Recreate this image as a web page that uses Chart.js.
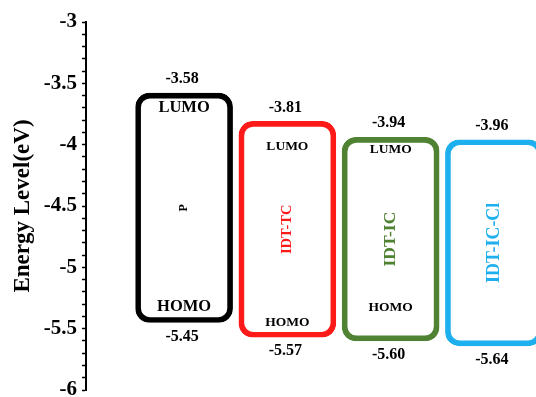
<!DOCTYPE html>
<html>
<head>
<meta charset="utf-8">
<script src="https://cdn.jsdelivr.net/npm/chart.js@4"></script>
<style>
  html, body { margin: 0; padding: 0; background: #fff; overflow: hidden; }
  #wrap { width: 536px; height: 397px; overflow: hidden; position: relative; }
  #c { position: absolute; left: 0; top: 0; }
</style>
</head>
<body>
<div id="wrap"><canvas id="c" width="560" height="410"></canvas></div>
<script>
// Frontier orbital energies (eV) of the polymer donor and the three acceptors
const materials = ['P', 'IDT-TC', 'IDT-IC', 'IDT-IC-Cl'];
const lumo = [-3.58, -3.81, -3.94, -3.96];
const homo = [-5.45, -5.57, -5.60, -5.64];
const slots = [1, 2, 3, 4];
const showLevelTags = [true, true, true, false];

// y-axis range and ticks
const yMin = -6, yMax = -3, yMinorStep = 0.1, yMajorStep = 0.5;

// styling
const boxColors = ['#000000', '#ff1a1a', '#4f8232', '#1eb0ee'];
const nameFontSizes = [12, 14.5, 17.5, 18];
const tagFontSizes = [16.5, 13.5, 13.5, 13.5];
// vertical offsets (px) of the LUMO / HOMO tags from the box edges
const lumoTagOffset = [15, 25, 12, 0];
const homoTagOffset = [16, 15, 33, 0];
const SERIF = '"Liberation Serif", "Times New Roman", serif';

const levelLabels = {
  id: 'levelLabels',
  afterDatasetsDraw(chart) {
    const ctx = chart.ctx;
    const meta = chart.getDatasetMeta(0);
    ctx.save();
    ctx.textAlign = 'center';
    ctx.textBaseline = 'middle';
    meta.data.forEach((bar, i) => {
      const top = Math.min(bar.y, bar.base);
      const bottom = Math.max(bar.y, bar.base);
      const cx = bar.x;
      ctx.fillStyle = '#000';
      ctx.font = 'bold 16px ' + SERIF;
      ctx.fillText(lumo[i].toFixed(2), cx - 2, top - 14);
      ctx.fillText(homo[i].toFixed(2), cx - 2, bottom + 14);
      if (showLevelTags[i]) {
        ctx.font = 'bold ' + tagFontSizes[i] + 'px ' + SERIF;
        ctx.fillText('LUMO', cx, top + lumoTagOffset[i]);
        ctx.fillText('HOMO', cx, bottom - homoTagOffset[i]);
      }
      // material name, rotated, in the middle of the box
      ctx.save();
      ctx.translate(cx, (top + bottom) / 2);
      ctx.rotate(-Math.PI / 2);
      ctx.fillStyle = boxColors[i];
      ctx.font = 'bold ' + nameFontSizes[i] + 'px ' + SERIF;
      ctx.fillText(materials[i], 0, 0);
      ctx.restore();
    });
    ctx.restore();
  }
};

new Chart(document.getElementById('c'), {
  type: 'bar',
  data: {
    datasets: [{
      data: slots.map((s, i) => ({ x: s, y: [homo[i], lumo[i]] })),
      backgroundColor: 'rgba(0,0,0,0)',
      borderColor: boxColors,
      borderWidth: 5,
      borderRadius: 14,
      borderSkipped: false,
      barThickness: 97
    }]
  },
  options: {
    responsive: false,
    animation: false,
    devicePixelRatio: 1,
    layout: { padding: { left: 0, top: 22, right: 0, bottom: 20 } },
    plugins: { legend: { display: false }, tooltip: { enabled: false } },
    scales: {
      x: {
        type: 'linear',
        min: 0.05,
        max: 4.64,
        offset: false,
        display: false
      },
      y: {
        min: yMin,
        max: yMax,
        afterFit(scale) { scale.width = 86; },
        border: { display: true, color: '#000', width: 2 },
        grid: {
          drawOnChartArea: false,
          drawTicks: true,
          tickLength: 4,
          tickColor: '#000',
          tickWidth: 1.5
        },
        ticks: {
          stepSize: yMinorStep,
          autoSkip: false,
          padding: 5,
          color: '#000',
          font: { family: SERIF, size: 21, weight: 'bold' },
          callback(v) {
            const r = v / yMajorStep;
            if (Math.abs(r - Math.round(r)) > 1e-6) return '';
            return String(Math.round(v * 10) / 10);
          }
        },
        title: {
          display: true,
          text: 'Energy Level(eV)',
          color: '#000',
          padding: { top: 9, bottom: 0 },
          font: { family: SERIF, size: 23, weight: 'bold' }
        }
      }
    }
  },
  plugins: [levelLabels]
});
</script>
</body>
</html>
